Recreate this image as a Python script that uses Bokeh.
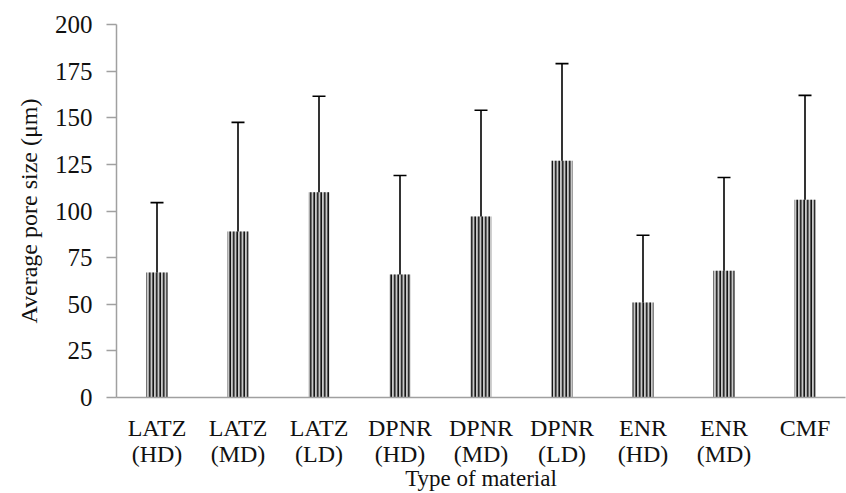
from bokeh.plotting import figure
from bokeh.models import ColumnDataSource, Whisker, FactorRange
from bokeh.embed import file_html
from bokeh.resources import INLINE

categories = ["LATZ\n(HD)", "LATZ\n(MD)", "LATZ\n(LD)", "DPNR\n(HD)", "DPNR\n(MD)",
              "DPNR\n(LD)", "ENR\n(HD)", "ENR\n(MD)", "CMF"]
means = [67, 89, 110, 66, 97, 127, 51, 68, 106]
sds = [37.5, 58.5, 51.5, 53, 57, 52, 36, 50, 56]
y_ticks = [0, 25, 50, 75, 100, 125, 150, 175, 200]
x_title = "Type of material"
y_title = "Average pore size (μm)"

lower = [m - s for m, s in zip(means, sds)]
upper = [m + s for m, s in zip(means, sds)]
src = ColumnDataSource(dict(x=categories, top=means, lower=lower, upper=upper))

FONT = "Liberation Serif"
p = figure(x_range=FactorRange(*categories, range_padding=0), y_range=(0, 200),
           width=846, height=493, output_backend="svg", toolbar_location=None,
           min_border_left=116, min_border_right=1, min_border_top=24, min_border_bottom=96)
p.outline_line_color = None
p.grid.visible = False
p.background_fill_color = "white"

p.vbar(x="x", top="top", width=0.26, source=src, fill_color="#c8c8c8",
       line_color=None, hatch_pattern="|", hatch_color="#111111",
       hatch_scale=3.5, hatch_weight=1.6)

w = Whisker(base="x", lower="lower", upper="upper", source=src,
            line_color="black", line_width=1.6)
w.upper_head.size = 13
w.lower_head.size = 13
w.upper_head.line_width = 1.6
w.lower_head.line_width = 1.6
w.upper_head.line_color = "black"
w.lower_head.line_color = "black"
p.add_layout(w)

p.yaxis.ticker = y_ticks
p.yaxis.minor_tick_line_color = None
p.yaxis.major_tick_out = 10
p.yaxis.major_tick_in = 0
p.yaxis.axis_line_color = "#a0a0a0"
p.yaxis.major_tick_line_color = "#a0a0a0"
p.yaxis.axis_line_width = 1.5
p.yaxis.major_tick_line_width = 1.5
p.yaxis.major_label_text_font = FONT
p.yaxis.major_label_text_font_size = "25px"
p.yaxis.major_label_text_color = "#111111"
p.yaxis.major_label_standoff = 14
p.yaxis.axis_label = y_title
p.yaxis.axis_label_text_font = FONT
p.yaxis.axis_label_text_font_size = "24px"
p.yaxis.axis_label_text_font_style = "normal"
p.yaxis.axis_label_text_color = "#111111"
p.yaxis.axis_label_standoff = 10

p.xaxis.major_tick_line_color = None
p.xaxis.minor_tick_line_color = None
p.xaxis.axis_line_color = "#a0a0a0"
p.xaxis.axis_line_width = 1.5
p.xaxis.major_label_text_font = FONT
p.xaxis.major_label_text_font_size = "24px"
p.xaxis.major_label_text_color = "#111111"
p.xaxis.major_label_text_line_height = 1.0
p.xaxis.major_label_standoff = 11
p.xaxis.axis_label = x_title
p.xaxis.axis_label_text_font = FONT
p.xaxis.axis_label_text_font_size = "23px"
p.xaxis.axis_label_text_font_style = "normal"
p.xaxis.axis_label_text_color = "#111111"
p.xaxis.axis_label_text_line_height = 0.8
p.xaxis.axis_label_standoff = -4

open("out.html", "w").write(file_html(p, INLINE))
